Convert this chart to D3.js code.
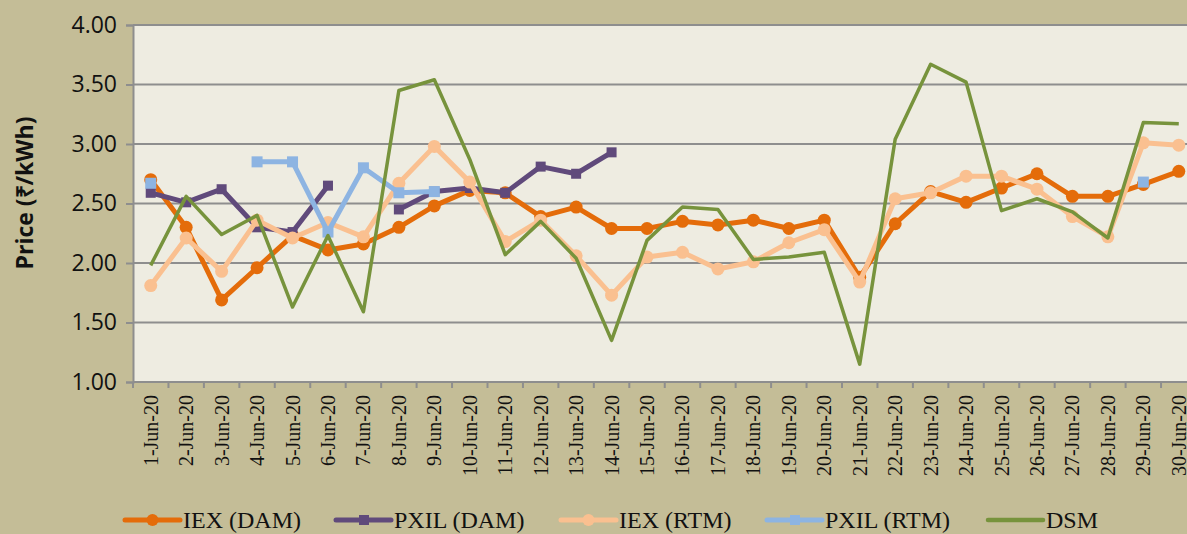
<!DOCTYPE html>
<html>
<head>
<meta charset="utf-8">
<script src="https://cdn.jsdelivr.net/npm/d3@7"></script>
<style>
  html, body { margin: 0; padding: 0; background: #c4bd97; overflow: hidden; }
</style>
</head>
<body>
<div id="chart"></div>
<script>
// days of June 2020
var days = ["1-Jun-20","2-Jun-20","3-Jun-20","4-Jun-20","5-Jun-20","6-Jun-20","7-Jun-20","8-Jun-20","9-Jun-20","10-Jun-20",
            "11-Jun-20","12-Jun-20","13-Jun-20","14-Jun-20","15-Jun-20","16-Jun-20","17-Jun-20","18-Jun-20","19-Jun-20","20-Jun-20",
            "21-Jun-20","22-Jun-20","23-Jun-20","24-Jun-20","25-Jun-20","26-Jun-20","27-Jun-20","28-Jun-20","29-Jun-20","30-Jun-20"];

var iexDam  = [2.70,2.30,1.69,1.96,2.23,2.11,2.16,2.30,2.48,2.61,
               2.59,2.39,2.47,2.29,2.29,2.35,2.32,2.36,2.29,2.36,
               1.88,2.33,2.60,2.51,2.63,2.75,2.56,2.56,2.66,2.77];
var pxilDam = [2.59,2.51,2.62,2.30,2.26,2.65,null,2.45,2.60,2.63,
               2.59,2.81,2.75,2.93,null,null,null,null,null,null,
               null,null,null,null,null,null,null,null,null,null];
var iexRtm  = [1.81,2.21,1.93,2.36,2.21,2.34,2.22,2.67,2.98,2.68,
               2.18,2.36,2.06,1.73,2.05,2.09,1.95,2.01,2.17,2.28,
               1.84,2.54,2.59,2.73,2.73,2.62,2.39,2.22,3.01,2.99];
var pxilRtm = [2.67,null,null,2.85,2.85,2.26,2.80,2.59,2.60,null,
               null,null,null,null,null,null,null,null,null,null,
               null,null,null,null,null,null,null,null,2.68,null];
var dsm     = [1.98,2.56,2.24,2.40,1.63,2.23,1.59,3.45,3.54,2.87,
               2.07,2.35,2.04,1.35,2.19,2.47,2.45,2.03,2.05,2.09,
               1.15,3.04,3.67,3.52,2.44,2.54,2.43,2.21,3.18,3.17];

var yTicks = [1.00,1.50,2.00,2.50,3.00,3.50,4.00];

var seriesNames = ["IEX (DAM)","PXIL (DAM)","IEX (RTM)","PXIL (RTM)","DSM"];

var series = [
  { name: seriesNames[0], values: iexDam,  color: "#e46c0a", width: 5,   marker: "circle", size: 6.5 },
  { name: seriesNames[1], values: pxilDam, color: "#604a7b", width: 5,   marker: "square", size: 10 },
  { name: seriesNames[2], values: iexRtm,  color: "#fac090", width: 5,   marker: "circle", size: 6.5 },
  { name: seriesNames[3], values: pxilRtm, color: "#8db4e2", width: 5,   marker: "square", size: 11 },
  { name: seriesNames[4], values: dsm,     color: "#77933c", width: 3.5, marker: null }
];

var W = 1187, H = 534;
var plot = { left: 133, top: 25, bottom: 382, right: 1196.5 };

var svg = d3.select("#chart").append("svg")
    .attr("width", W)
    .attr("height", H);

svg.append("rect").attr("width", W).attr("height", H).attr("fill", "#c4bd97");

var x = d3.scaleBand()
    .domain(days)
    .range([plot.left, plot.right]);

var y = d3.scaleLinear()
    .domain([1, 4])
    .range([plot.bottom, plot.top]);

svg.append("rect")
    .attr("x", plot.left)
    .attr("y", plot.top)
    .attr("width", plot.right - plot.left)
    .attr("height", plot.bottom - plot.top)
    .attr("fill", "#eeece1");

// gridlines
svg.append("g")
    .selectAll("line")
    .data(yTicks.slice(1))
    .enter()
    .append("line")
    .attr("x1", plot.left)
    .attr("x2", plot.right)
    .attr("y1", function(d){ return y(d); })
    .attr("y2", function(d){ return y(d); })
    .attr("stroke", "#8e8e8e")
    .attr("stroke-width", 2);

// y axis
var yAxis = d3.axisLeft(y)
    .tickValues(yTicks)
    .tickFormat(d3.format(".2f"))
    .tickSize(7)
    .tickPadding(9);

var gy = svg.append("g")
    .attr("transform", "translate(" + plot.left + ",0)")
    .call(yAxis);
gy.select(".domain").attr("stroke", "#8e8e8e").attr("stroke-width", 2);
gy.selectAll(".tick line").attr("stroke", "#8e8e8e").attr("stroke-width", 2);
gy.selectAll(".tick text")
    .attr("font-family", "'Open Sans', sans-serif")
    .attr("font-size", 23)
    .attr("fill", "#111");

// x axis: ticks sit on category borders
var xBorders = d3.range(days.length + 1).map(function(i){ return plot.left + i * x.step(); });
svg.append("line")
    .attr("x1", plot.left).attr("x2", plot.right)
    .attr("y1", plot.bottom).attr("y2", plot.bottom)
    .attr("stroke", "#8e8e8e").attr("stroke-width", 2);
svg.append("g")
    .selectAll("line")
    .data(xBorders)
    .enter()
    .append("line")
    .attr("x1", function(d){ return d; })
    .attr("x2", function(d){ return d; })
    .attr("y1", plot.bottom)
    .attr("y2", plot.bottom + 6)
    .attr("stroke", "#8e8e8e")
    .attr("stroke-width", 2);

svg.append("g")
    .selectAll("text")
    .data(days)
    .enter()
    .append("text")
    .attr("transform", function(d){
        return "translate(" + (x(d) + x.bandwidth() / 2) + "," + (plot.bottom + 13) + ") rotate(-90)";
    })
    .attr("dy", "0.35em")
    .attr("text-anchor", "end")
    .attr("font-family", "'Liberation Serif', 'Times New Roman', serif")
    .attr("font-size", 20)
    .attr("fill", "#111")
    .text(function(d){ return d; });

// y title
svg.append("text")
    .attr("transform", "translate(25,193) rotate(-90)")
    .attr("dy", "0.35em")
    .attr("text-anchor", "middle")
    .attr("font-family", "'Open Sans', sans-serif")
    .attr("font-weight", "bold")
    .attr("font-size", 23)
    .attr("fill", "#111")
    .text("Price (₹/kWh)");

// series
var cx = function(i){ return x(days[i]) + x.bandwidth() / 2; };
var line = d3.line()
    .defined(function(d){ return d != null; })
    .x(function(d, i){ return cx(i); })
    .y(function(d){ return y(d); });

series.forEach(function(s){
    var g = svg.append("g");
    g.append("path")
        .datum(s.values)
        .attr("d", line)
        .attr("fill", "none")
        .attr("stroke", s.color)
        .attr("stroke-width", s.width)
        .attr("stroke-linejoin", "round");

    var pts = s.values.map(function(v, i){ return { v: v, i: i }; })
                      .filter(function(p){ return p.v != null; });
    if (s.marker === "circle") {
        g.selectAll("circle")
            .data(pts)
            .enter()
            .append("circle")
            .attr("cx", function(p){ return cx(p.i); })
            .attr("cy", function(p){ return y(p.v); })
            .attr("r", s.size)
            .attr("fill", s.color);
    } else if (s.marker === "square") {
        g.selectAll("rect")
            .data(pts)
            .enter()
            .append("rect")
            .attr("x", function(p){ return cx(p.i) - s.size / 2; })
            .attr("y", function(p){ return y(p.v) - s.size / 2; })
            .attr("width", s.size)
            .attr("height", s.size)
            .attr("fill", s.color);
    }
});

// legend
var legendX = [125, 336, 561, 767, 988];
var legend = svg.append("g")
    .selectAll("g")
    .data(series)
    .enter()
    .append("g")
    .attr("transform", function(d, i){ return "translate(" + legendX[i] + ",520)"; });

legend.append("line")
    .attr("x1", 0).attr("x2", 55)
    .attr("stroke", function(d){ return d.color; })
    .attr("stroke-width", function(d){ return d.marker ? 5 : 4.5; })
    .attr("stroke-linecap", "round");

legend.filter(function(d){ return d.marker === "circle"; })
    .append("circle")
    .attr("cx", 27.5)
    .attr("r", 6)
    .attr("fill", function(d){ return d.color; });

legend.filter(function(d){ return d.marker === "square"; })
    .append("rect")
    .attr("x", 23).attr("y", -5)
    .attr("width", 10).attr("height", 10)
    .attr("fill", function(d){ return d.color; });

legend.append("text")
    .attr("x", 58)
    .attr("dy", "0.35em")
    .attr("font-family", "'Liberation Serif', 'Times New Roman', serif")
    .attr("font-size", 24)
    .attr("fill", "#111")
    .text(function(d){ return d.name; });
</script>
</body>
</html>
